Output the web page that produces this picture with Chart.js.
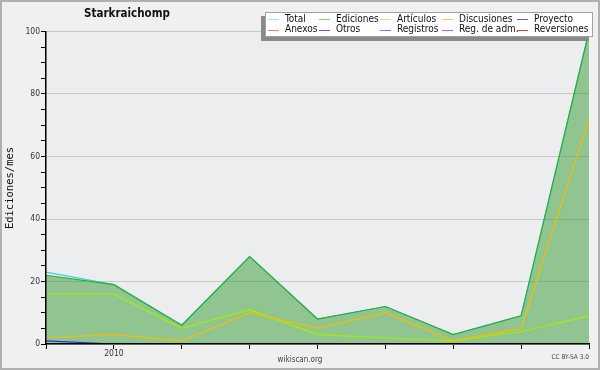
<!DOCTYPE html>
<html>
<head>
<meta charset="utf-8">
<script src="https://cdn.jsdelivr.net/npm/chart.js@4"></script>
<style>
html,body{margin:0;padding:0;background:#f0f0f0;}
#wrap{width:600px;height:370px;}
</style>
</head>
<body>
<div id="wrap"><canvas id="c" width="600" height="370"></canvas></div>
<script>
// ---- data ----
const categories = ['2009-12','2010-01','2010-02','2010-03','2010-04','2010-05','2010-06','2010-07','2010-08'];
const total       = [23, 19, 6, 28, 8, 12, 3, 9, 100];
const ediciones   = [22, 19, 6, 28, 8, 12, 3, 9, 100];
const articulos   = [16, 16, 5, 11, 3, 2, 1, 4, 9];
const discusiones = [2, 3, 1, 10, 5, 10, 1, 5, 72];
const proyecto    = [0, 0, 0, 0, 0, 0, 0, 0, 0];
const anexos      = [0, 0, 0, 0, 0, 0, 0, 0, 0];
const otros       = [0, 0, 0, 0, 0, 0, 0, 0, 0];
const registros   = [1, 0, 0, 0, 0, 0, 0, 0, 0];
const regAdm      = [0, 0, 0, 0, 0, 0, 0, 0, 0];
const reversiones = [0, 0, 0, 0, 0, 0, 0, 0, 0];
const yTickLabels = [0, 20, 40, 60, 80, 100];
const chartTitle = 'Starkraichomp';
const yTitle = 'Ediciones/mes';

const FONT = '"DejaVu Sans Condensed", "DejaVu Sans", sans-serif';

function ds(label, data, color, legendColor, order, extra) {
  return Object.assign({
    label, data, borderColor: color, legendColor, backgroundColor: color,
    borderWidth: 1.2, pointRadius: 0, tension: 0, fill: false, order
  }, extra || {});
}

const datasets = [
  ds('Total', total, '#33d6d6', '#a8e0e0', 5),
  ds('Ediciones', ediciones, '#33a833', '#88cc88', 4, {fill: 'origin', backgroundColor: 'rgba(34,150,34,0.455)'}),
  ds('Artículos', articulos, '#a0f000', '#c8f060', 2),
  ds('Discusiones', discusiones, '#f0c000', '#f8d050', 1),
  ds('Proyecto', proyecto, '#555555', '#666666', 6),
  ds('Anexos', anexos, '#ee7733', '#ee8855', 6),
  ds('Otros', otros, '#8833dd', '#8844dd', 6),
  ds('Registros', registros, '#2233dd', '#7777ee', 3),
  ds('Reg. de adm.', regAdm, '#cc44ee', '#cc55ee', 6),
  ds('Reversiones', reversiones, '#ee2222', '#ee3333', 6)
];

const decor = {
  id: 'decor',
  beforeDraw(chart) {
    const ctx = chart.ctx, a = chart.chartArea;
    ctx.save();
    ctx.fillStyle = '#f0f0f0';
    ctx.fillRect(0, 0, 600, 370);
    ctx.fillStyle = '#ecedef';
    ctx.fillRect(a.left, a.top, a.right - a.left, a.bottom - a.top);
    ctx.strokeStyle = '#b0b0b0';
    ctx.lineWidth = 2;
    ctx.strokeRect(1, 1, 598, 368);
    ctx.restore();
  },
  afterDraw(chart) {
    const ctx = chart.ctx;
    ctx.save();
    // title
    ctx.fillStyle = '#111';
    ctx.font = 'bold 11.5px ' + FONT;
    ctx.textAlign = 'center';
    ctx.textBaseline = 'middle';
    ctx.fillText(chartTitle, 127, 14);
    // y title
    ctx.save();
    ctx.translate(10, 188);
    ctx.rotate(-Math.PI / 2);
    ctx.font = '10.5px "DejaVu Sans Mono", monospace';
    ctx.fillStyle = '#111';
    ctx.fillText(yTitle, 0, 0);
    ctx.restore();
    // footers
    ctx.font = '8px ' + FONT;
    ctx.fillStyle = '#444';
    ctx.fillText('wikiscan.org', 300, 360);
    ctx.font = '6.5px ' + FONT;
    ctx.textAlign = 'right';
    ctx.fillText('CC BY-SA 3.0', 589, 357.5);
    // legend
    ctx.fillStyle = '#8a8a8a';
    ctx.fillRect(261, 16, 328, 25);
    ctx.fillStyle = '#ffffff';
    ctx.fillRect(265, 12, 328, 25);
    ctx.strokeStyle = '#a0a0a0';
    ctx.lineWidth = 1;
    ctx.strokeRect(265.5, 12.5, 327, 24);
    const colX = [268, 319, 380, 442, 517];
    const rowY = [19, 29.5];
    ctx.font = '10px ' + FONT;
    ctx.textAlign = 'left';
    ctx.textBaseline = 'middle';
    chart.data.datasets.forEach((d, i) => {
      const col = i % 5, row = Math.floor(i / 5);
      const x = colX[col], y = rowY[row];
      ctx.strokeStyle = d.legendColor;
      ctx.lineWidth = 1;
      ctx.beginPath();
      ctx.moveTo(x, Math.round(y) + 0.5);
      ctx.lineTo(x + 11, Math.round(y) + 0.5);
      ctx.stroke();
      ctx.fillStyle = '#111';
      ctx.fillText(d.label, x + 17, y);
    });
    ctx.restore();
  }
};

new Chart(document.getElementById('c'), {
  type: 'line',
  data: { labels: categories, datasets },
  options: {
    responsive: false,
    animation: false,
    events: [],
    layout: { padding: { top: 31.5, right: 11, left: 0, bottom: 0 } },
    plugins: {
      legend: { display: false },
      title: { display: false },
      tooltip: { enabled: false },
      filler: { drawTime: 'beforeDatasetsDraw' }
    },
    scales: {
      x: {
        offset: false,
        afterFit(s) { s.height = 26; },
        border: { display: true, color: '#000', width: 1.5, z: 1 },
        grid: { display: true, color: 'rgba(0,0,0,0)', tickColor: '#000', tickLength: 5, drawOnChartArea: false },
        ticks: {
          autoSkip: false, maxRotation: 0, padding: 0,
          color: '#333', font: { family: FONT, size: 8.5 },
          callback(v) { const l = categories[v]; return l.endsWith('-01') ? l.slice(0, 4) : ''; }
        }
      },
      y: {
        min: 0, max: 100,
        afterFit(s) { s.width = 46; },
        border: { display: true, color: '#000', width: 1.5, z: 1 },
        grid: {
          color(c) { return yTickLabels.includes(c.tick.value) ? '#c8c8c8' : 'rgba(0,0,0,0)'; },
          tickColor: '#000', tickLength: 5
        },
        ticks: {
          stepSize: 5, autoSkip: false, padding: 1,
          color: '#333', font: { family: FONT, size: 8.5 },
          callback(v) { return yTickLabels.includes(v) ? String(v) : ''; }
        }
      }
    }
  },
  plugins: [decor]
});
</script>
</body>
</html>
